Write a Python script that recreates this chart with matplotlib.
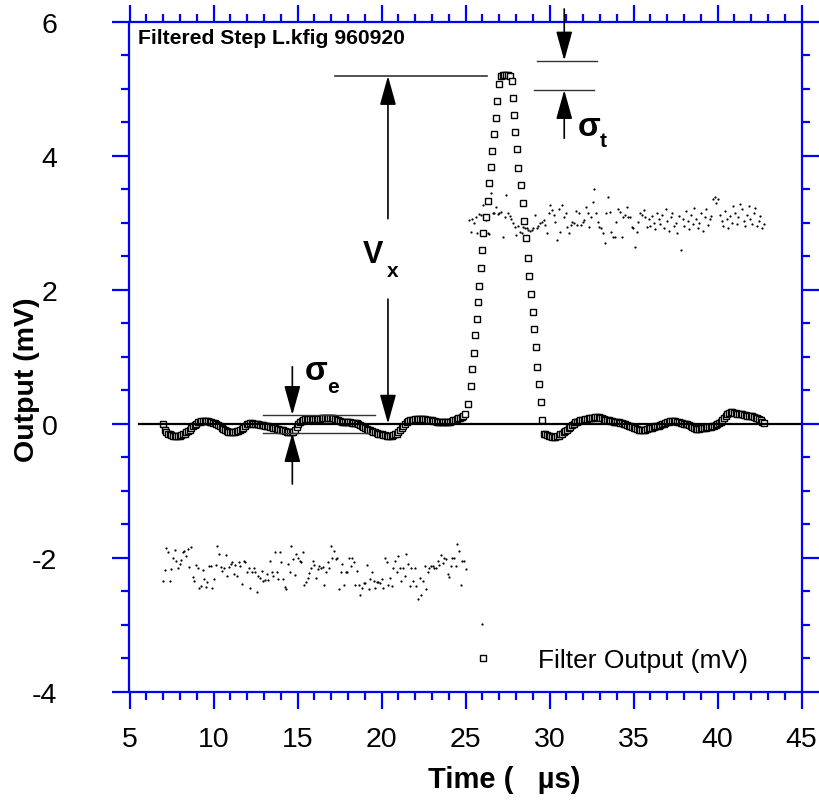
import matplotlib
matplotlib.use("Agg")
import matplotlib.pyplot as plt
import numpy as np

plt.rcParams['font.family'] = ['Liberation Sans', 'DejaVu Sans']
plt.rcParams['axes.unicode_minus'] = False

BLUE = '#0000ff'

# filter output (open squares)
base_left = [0.00, -0.10, -0.13, -0.15, -0.16, -0.17, -0.18, -0.19, -0.19, -0.19,
             -0.18, -0.17, -0.16, -0.15, -0.13, -0.11, -0.09, -0.07, -0.04, -0.02,
             0.00, 0.02, 0.03, 0.04, 0.04, 0.04, 0.04, 0.04, 0.03, 0.02,
             0.01, 0.01, 0.00, -0.02, -0.04, -0.06, -0.08, -0.10, -0.11, -0.12,
             -0.13, -0.13, -0.12, -0.12, -0.11, -0.11, -0.10, -0.08, -0.06, -0.03,
             -0.01, 0.00, 0.01, 0.01, 0.00, 0.00, -0.01, -0.01, -0.02, -0.02,
             -0.02, -0.03, -0.03, -0.04, -0.05, -0.05, -0.06, -0.07, -0.08, -0.08,
             -0.09, -0.10, -0.10, -0.11, -0.12, -0.13, -0.13, -0.13, -0.12, -0.09,
             -0.05, -0.01, 0.02, 0.04, 0.06, 0.07, 0.07, 0.07, 0.07, 0.07,
             0.07, 0.07, 0.07, 0.07, 0.07, 0.08, 0.08, 0.08, 0.08, 0.08,
             0.08, 0.08, 0.08, 0.07, 0.06, 0.05, 0.04, 0.03, 0.02, 0.02,
             0.02, 0.02, 0.02, 0.01, 0.01, 0.01, 0.01, 0.00, -0.02, -0.03,
             -0.05, -0.06, -0.08, -0.09, -0.10, -0.11, -0.12, -0.13, -0.14, -0.15,
             -0.16, -0.16, -0.17, -0.17, -0.18, -0.18, -0.18, -0.18, -0.17, -0.16,
             -0.15, -0.13, -0.10, -0.07, -0.04, -0.01, 0.02, 0.04, 0.05, 0.06,
             0.06, 0.07, 0.07, 0.07, 0.07, 0.07, 0.07, 0.07, 0.06, 0.06,
             0.05, 0.05, 0.04, 0.04, 0.03, 0.03, 0.03, 0.03, 0.02, 0.02,
             0.02, 0.02, 0.03, 0.04, 0.05, 0.06, 0.07, 0.08, 0.09, 0.10,
             0.12, 0.14]
t_left = np.linspace(7.0, 24.97, len(base_left))

t_rise = [25.16, 25.32, 25.40, 25.50, 25.58, 25.66, 25.74, 25.82, 25.90, 26.00,
          26.06, 26.20, 26.32, 26.37, 26.49, 26.59, 26.69, 26.79, 26.87, 26.99,
          27.10, 27.20, 27.30, 27.40, 27.50, 27.62]
v_rise = [0.29, 0.56, 0.81, 1.06, 1.32, 1.57, 1.81, 2.06, 2.33, 2.60,
          2.85, 3.09, 3.33, 3.60, 3.83, 4.07, 4.33, 4.56, 4.82, 5.07,
          5.19, 5.20, 5.21, 5.21, 5.20, 5.19]
t_fall = [27.74, 27.80, 27.90, 27.96, 28.08, 28.14, 28.28, 28.40, 28.48, 28.60,
          28.70, 28.78, 28.89, 28.99, 29.07, 29.19, 29.27, 29.39, 29.51, 29.57]
v_fall = [5.11, 4.86, 4.61, 4.35, 4.10, 3.82, 3.56, 3.30, 3.03, 2.77,
          2.48, 2.20, 1.93, 1.66, 1.41, 1.14, 0.84, 0.59, 0.32, 0.05]

base_right = [-0.15, -0.16,
              -0.17, -0.18, -0.19, -0.20, -0.20, -0.20, -0.19, -0.18, -0.16, -0.15,
              -0.13, -0.11, -0.09, -0.07, -0.05, -0.02, 0.00, 0.02, 0.03, 0.04,
              0.05, 0.06, 0.06, 0.07, 0.07, 0.08, 0.08, 0.09, 0.09, 0.10,
              0.10, 0.10, 0.09, 0.08, 0.07, 0.06, 0.05, 0.05, 0.04, 0.04,
              0.03, 0.03, 0.02, 0.02, 0.01, 0.01, 0.00, -0.01, -0.02, -0.03,
              -0.04, -0.05, -0.06, -0.07, -0.08, -0.09, -0.10, -0.10, -0.09, -0.09,
              -0.08, -0.07, -0.06, -0.06, -0.05, -0.04, -0.03, -0.03, -0.02, -0.01,
              0.00, 0.01, 0.02, 0.03, 0.04, 0.04, 0.04, 0.04, 0.03, 0.02,
              0.01, 0.01, 0.00, 0.00, -0.01, -0.02, -0.04, -0.05, -0.07, -0.08,
              -0.08, -0.08, -0.07, -0.07, -0.06, -0.06, -0.05, -0.05, -0.05, -0.04,
              -0.03, -0.02, 0.00, 0.01, 0.03, 0.06, 0.09, 0.12, 0.15, 0.16,
              0.17, 0.17, 0.16, 0.16, 0.15, 0.15, 0.14, 0.14, 0.13, 0.13,
              0.12, 0.12, 0.11, 0.11, 0.10, 0.09, 0.08, 0.07, 0.05, 0.03,
              0.01]
t_right = np.linspace(29.65, 42.75, len(base_right))

t_filter = np.concatenate([t_left, t_rise, t_fall, t_right])
v_filter = np.concatenate([base_left, v_rise, v_fall, base_right])

# raw step input (small dots)
raw_low = [-2.35, -2.19, -1.86, -1.91, -2.35, -2.17, -2.00, -1.89, -2.05, -2.15,
           -2.09, -2.04, -1.92, -1.90, -1.97, -1.87, -2.14, -1.84, -2.29, -2.35,
           -2.11, -2.16, -2.45, -2.42, -2.18, -2.32, -2.44, -2.36, -2.12, -2.12,
           -2.45, -2.32, -2.11, -1.83, -1.94, -2.14, -2.20, -2.15, -1.96, -2.27,
           -2.14, -2.10, -2.07, -2.24, -2.11, -2.27, -2.07, -2.12, -2.39, -2.05,
           -2.07, -2.22, -2.16, -2.45, -2.22, -2.15, -2.22, -2.51, -2.27, -2.30,
           -2.20, -2.35, -2.34, -2.24, -2.34, -2.05, -2.22, -2.27, -1.91, -2.22,
           -2.32, -1.92, -2.07, -2.32, -2.44, -2.47, -2.10, -2.22, -1.82, -2.02,
           -2.26, -1.95, -2.00, -2.05, -2.06, -1.92, -2.40, -2.36, -2.30, -2.23,
           -2.16, -2.05, -2.11, -2.30, -2.17, -2.12, -2.16, -2.14, -2.40, -2.22,
           -2.07, -2.16, -1.82, -2.00, -1.90, -2.02, -2.01, -2.46, -2.21, -2.10,
           -2.40, -2.22, -2.22, -2.01, -2.12, -2.01, -2.06, -2.40, -2.20, -2.41,
           -2.56, -2.45, -2.38, -2.38, -2.11, -2.47, -2.32, -2.21, -2.35, -2.45,
           -2.37, -2.37, -2.38, -2.32, -2.45, -2.01, -2.07, -2.40, -2.30, -2.42,
           -2.16, -2.05, -2.22, -1.97, -2.15, -2.35, -2.16, -2.27, -1.95, -2.09,
           -2.42, -2.15, -2.35, -2.15, -2.42, -2.61, -2.30, -2.56, -2.35, -2.12,
           -2.47, -2.21, -2.16, -2.13, -2.12, -2.15, -2.16, -2.05, -2.11, -1.96,
           -2.08, -2.00, -2.02, -2.25, -2.29, -2.13, -2.00, -2.00, -2.13, -1.80,
           -1.90, -2.40, -2.05, -2.05, -2.17]
t_low = np.linspace(7.0, 25.0, len(raw_low))

t_glitch = [25.96]
raw_glitch = [-2.99]

raw_high = [3.04, 2.86, 3.05, 3.00, 3.09, 2.85, 3.13, 3.11, 3.26, 3.09,
            3.04, 2.85, 2.83, 3.44, 3.14, 3.15, 3.24, 3.13, 3.15, 3.16,
            2.78, 3.09, 3.41, 3.15, 3.10, 3.06, 3.00, 2.93, 2.82, 2.95,
            2.86, 2.84, 2.94, 2.92, 2.92, 2.89, 2.88, 2.89, 2.92, 3.11,
            2.92, 2.95, 2.99, 3.01, 3.04, 2.97, 2.85, 3.15, 3.26, 3.19,
            3.11, 3.01, 2.74, 3.21, 2.86, 3.26, 3.09, 3.14, 2.94, 2.84,
            2.97, 3.01, 2.99, 3.18, 2.97, 3.14, 2.97, 3.01, 3.04, 3.24,
            3.14, 2.94, 3.09, 3.31, 3.50, 3.14, 3.01, 2.94, 2.92, 2.84,
            2.69, 3.14, 3.39, 3.16, 2.86, 2.78, 2.79, 3.01, 3.20, 3.16,
            2.79, 3.09, 3.11, 3.24, 3.09, 3.09, 2.94, 2.92, 2.64, 2.86,
            3.01, 3.14, 3.11, 3.19, 3.09, 2.94, 3.05, 2.95, 3.10, 3.00,
            2.90, 3.15, 3.05, 2.98, 3.12, 2.92, 3.20, 3.02, 2.88, 3.08,
            3.15, 2.95, 3.00, 2.85, 3.10, 2.60, 3.05, 2.95, 3.18, 3.02,
            2.90, 3.12, 2.98, 3.22, 3.05, 2.92, 3.00, 3.15, 2.88, 3.08,
            3.20, 2.96, 3.05, 3.10, 3.35, 3.38, 3.30, 3.36, 3.12, 3.02,
            2.95, 3.18, 3.05, 2.92, 3.10, 3.00, 3.25, 3.15, 2.98, 3.08,
            3.28, 3.20, 3.02, 2.95, 3.12, 3.25, 3.05, 2.98, 3.15, 3.22,
            2.95, 3.02, 3.10, 2.92, 2.98]
t_high = np.linspace(25.2, 42.75, len(raw_high))

t_raw = np.concatenate([t_low, t_glitch, t_high])
v_raw = np.concatenate([raw_low, raw_glitch, raw_high])

xticks = [5, 10, 15, 20, 25, 30, 35, 40, 45]
yticks = [-4, -2, 0, 2, 4, 6]

fig = plt.figure(figsize=(8.2, 8.03), dpi=100)
ax = fig.add_axes([129.5 / 820, 1 - 692.7 / 803, 672.2 / 820, 670 / 803])

ax.plot(t_raw, v_raw, linestyle='none', marker='o', ms=1.6, color='black', mew=0)
ax.plot(t_filter, v_filter, linestyle='none', marker='s', ms=4.4, mfc='white',
        mec='black', mew=1.0, label='Filter Output (mV)')
ax.axhline(0, xmin=0.014, color='black', lw=1.6)

ax.set_xlim(5, 45)
ax.set_ylim(-4, 6)
ax.set_xticks(xticks)
ax.set_yticks(yticks)
ax.set_xticks(np.arange(5, 46, 1), minor=True)
ax.set_yticks(np.arange(-4, 6.01, 0.5), minor=True)

for s in ax.spines.values():
    s.set_color(BLUE)
    s.set_linewidth(1.6)
ax.tick_params(which='both', direction='out', top=True, right=True, color=BLUE,
               width=1.6, labelsize=20.5)
ax.tick_params(which='major', length=12)
ax.tick_params(which='minor', length=6)
ax.tick_params(axis='y', pad=40)
ax.tick_params(axis='x', pad=13)

fig.text(27 / 820, 1 - 380 / 803, 'Output (mV)', rotation=90, ha='center',
         va='center', fontsize=20.5, fontweight='bold')
fig.text(504 / 820, 1 - 780 / 803, 'Time (   µs)', ha='center', va='center',
         fontsize=21, fontweight='bold')

ax.text(5.5, 5.77, 'Filtered Step L.kfig 960920', fontsize=15.2,
        fontweight='bold', va='center', ha='left')

arrow = dict(arrowstyle='-|>,head_length=1.8,head_width=0.5', color='black',
             lw=1.2, shrinkA=0, shrinkB=0, mutation_scale=10)

# V_x marker
ax.plot([17.23, 26.27], [5.19, 5.19], color='#333333', lw=1.2)
ax.annotate('', xy=(20.38, 5.19), xytext=(20.38, 3.06), arrowprops=arrow)
ax.annotate('', xy=(20.38, 0.0), xytext=(20.38, 1.86), arrowprops=arrow)
ax.text(19.49, 2.53, 'V', fontsize=22, fontweight='bold', ha='center', va='center')
ax.text(20.65, 2.28, 'x', fontsize=15, fontweight='bold', ha='center', va='center')

# sigma_e marker
ax.plot([12.94, 19.61], [0.13, 0.13], color='#333333', lw=1.0)
ax.plot([12.94, 19.31], [-0.14, -0.14], color='#333333', lw=1.0)
ax.annotate('', xy=(14.69, 0.13), xytext=(14.69, 0.85), arrowprops=arrow)
ax.annotate('', xy=(14.69, -0.14), xytext=(14.69, -0.90), arrowprops=arrow)
ax.text(16.10, 0.79, 'σ', fontsize=24, fontweight='bold', ha='center', va='center')
ax.text(17.12, 0.55, 'e', fontsize=15, fontweight='bold', ha='center', va='center')

# sigma_t marker
ax.plot([29.23, 32.80], [5.42, 5.42], color='#333333', lw=1.0)
ax.plot([29.09, 32.66], [4.98, 4.98], color='#333333', lw=1.0)
ax.annotate('', xy=(30.87, 5.42), xytext=(30.87, 6.19), arrowprops=arrow,
            annotation_clip=False)
ax.annotate('', xy=(30.87, 4.98), xytext=(30.87, 4.26), arrowprops=arrow)
ax.text(32.36, 4.44, 'σ', fontsize=24, fontweight='bold', ha='center', va='center')
ax.text(33.18, 4.22, 't', fontsize=15, fontweight='bold', ha='center', va='center')

ax.legend(loc='center left', bbox_to_anchor=(0.507, 0.047), frameon=False,
          fontsize=19, handlelength=1.0, handletextpad=1.55, borderpad=0,
          borderaxespad=0, markerscale=1.0)

fig.savefig('out.png', dpi=100)
